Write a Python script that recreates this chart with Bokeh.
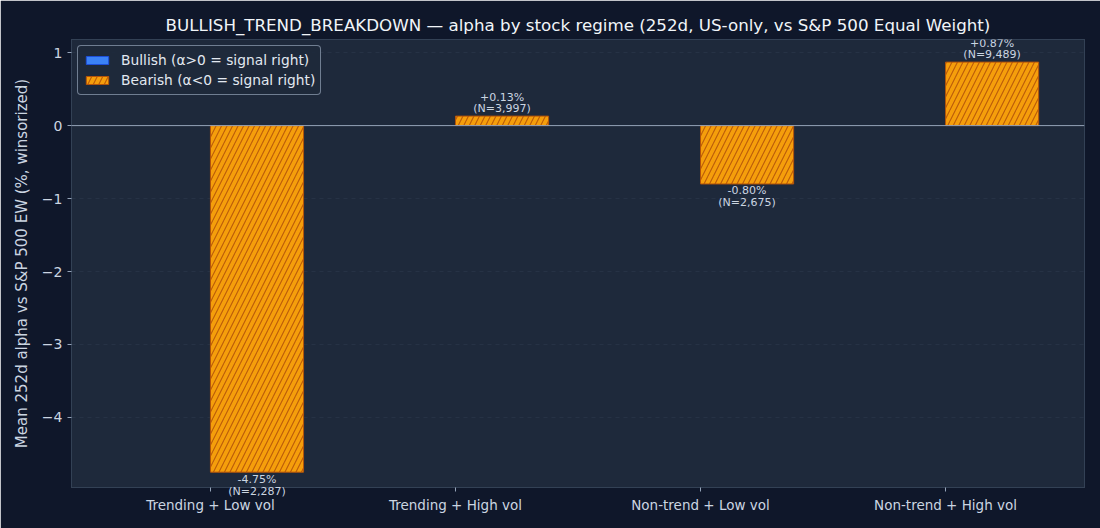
import math
from bokeh.plotting import figure
from bokeh.models import ColumnDataSource, FixedTicker, Span, Legend, LegendItem, CustomJSTickFormatter, Label
from bokeh.transform import dodge
from bokeh.embed import file_html
from bokeh.resources import INLINE

# ---- data ----
categories = ["Trending + Low vol", "Trending + High vol", "Non-trend + Low vol", "Non-trend + High vol"]
bullish_alpha = [math.nan, math.nan, math.nan, math.nan]
bearish_alpha = [-4.75, 0.13, -0.80, 0.87]
bearish_n = [2287, 3997, 2675, 9489]

BG = "#0f172a"
PANEL = "#1e293b"
TXT = "#cbd5e1"
FONT = "DejaVu Sans"
OFFSET = 0.19
BAR_W = 0.38
Y_START, Y_END = -4.96, 1.18

idx = list(range(len(categories)))
src = ColumnDataSource(dict(x=idx, bull=bullish_alpha, bear=bearish_alpha))

p = figure(width=1100, height=528, output_backend="svg", toolbar_location=None,
           x_range=(-0.567, 3.567), y_range=(Y_START, Y_END),
           background_fill_color=PANEL, border_fill_color=BG,
           min_border_left=71, min_border_right=16, min_border_top=39, min_border_bottom=41)

p.title.text = "BULLISH_TREND_BREAKDOWN \u2014 alpha by stock regime (252d, US-only, vs S&P 500 Equal Weight)"
p.title.align = "center"
p.title.text_color = "#f1f5f9"
p.title.text_font = FONT
p.title.text_font_size = "16.7px"
p.title.text_font_style = "normal"

r_bull = p.vbar(x=dodge("x", -OFFSET, range=p.x_range), top="bull", bottom=0, width=BAR_W, source=src,
                fill_color="#3b82f6", line_color="#1d4ed8", line_width=1)
r_bear = p.vbar(x=dodge("x", OFFSET, range=p.x_range), top="bear", bottom=0, width=BAR_W, source=src,
                fill_color="#f59e0b", line_color="#b45309", line_width=1,
                hatch_pattern="right_diagonal_line", hatch_color="#b45309",
                hatch_scale=11, hatch_weight=1.1, hatch_alpha=0.9)

p.add_layout(Span(location=0, dimension="width", line_color="#94a3b8", line_width=1))

# axes (x axis added first so it sits next to the frame)
p.xaxis.ticker = FixedTicker(ticks=idx)
p.xaxis.major_label_overrides = {i: c for i, c in zip(idx, categories)}
p.yaxis.ticker = FixedTicker(ticks=[-4, -3, -2, -1, 0, 1])
p.yaxis.formatter = CustomJSTickFormatter(code="return tick < 0 ? '\u2212' + Math.abs(tick) : '' + tick;")
p.yaxis.axis_label = "Mean 252d alpha vs S&P 500 EW (%, winsorized)"
for ax in (p.xaxis[0], p.yaxis[0]):
    ax.axis_line_color = None
    ax.major_tick_line_color = "#94a3b8"
    ax.major_tick_out = 4
    ax.major_tick_in = 0
    ax.minor_tick_line_color = None
    ax.major_label_text_color = TXT
    ax.major_label_text_font = FONT
    ax.axis_label_text_color = TXT
    ax.axis_label_text_font = FONT
    ax.axis_label_text_font_style = "normal"
p.xaxis.major_label_text_font_size = "13.5px"
p.yaxis.major_label_text_font_size = "14px"
p.yaxis.axis_label_text_font_size = "15px"
p.yaxis.axis_label_standoff = 8

# value labels (two lines each); a line that would fall below the frame is put
# into the lower side panel so that it is not clipped by the frame
for i, v, n in zip(idx, bearish_alpha, bearish_n):
    if v >= 0:
        lines = [(f"{v:+.2f}%", 19), (f"(N={n:,})", 8)]
    else:
        lines = [(f"{v:+.2f}%", -7), (f"(N={n:,})", -19)]
    for txt, off in lines:
        lab = Label(x=i + OFFSET, y=v, text=txt, y_offset=off,
                    text_align="center", text_baseline="middle",
                    text_font=FONT, text_font_size="11px", text_color=TXT)
        outside = v < 0 and (v - Y_START) * 73 < -off + 6
        p.add_layout(lab, "below" if outside else "center")

p.xgrid.grid_line_color = None
p.ygrid.grid_line_color = "#334155"
p.ygrid.grid_line_alpha = 0.4
p.ygrid.grid_line_dash = "4 4"
p.outline_line_color = "#334155"

legend = Legend(items=[
    LegendItem(label="Bullish (\u03b1>0 = signal right)", renderers=[r_bull]),
    LegendItem(label="Bearish (\u03b1<0 = signal right)", renderers=[r_bear]),
], location="top_left")
legend.background_fill_color = PANEL
legend.background_fill_alpha = 0.9
legend.border_line_color = "#94a3b8"
legend.border_line_alpha = 0.7
legend.border_radius = 4
legend.label_text_color = "#e2e8f0"
legend.label_text_font = FONT
legend.label_text_font_size = "13.8px"
legend.glyph_width = 28
legend.glyph_height = 10
legend.label_standoff = 10
legend.padding = 5
legend.spacing = 2
legend.margin = 6
legend.label_height = 18
p.add_layout(legend)

html = file_html(p, INLINE)
html = html.replace("<body>", f'<body style="background:{BG};">', 1)
open("out.html", "w").write(html)
